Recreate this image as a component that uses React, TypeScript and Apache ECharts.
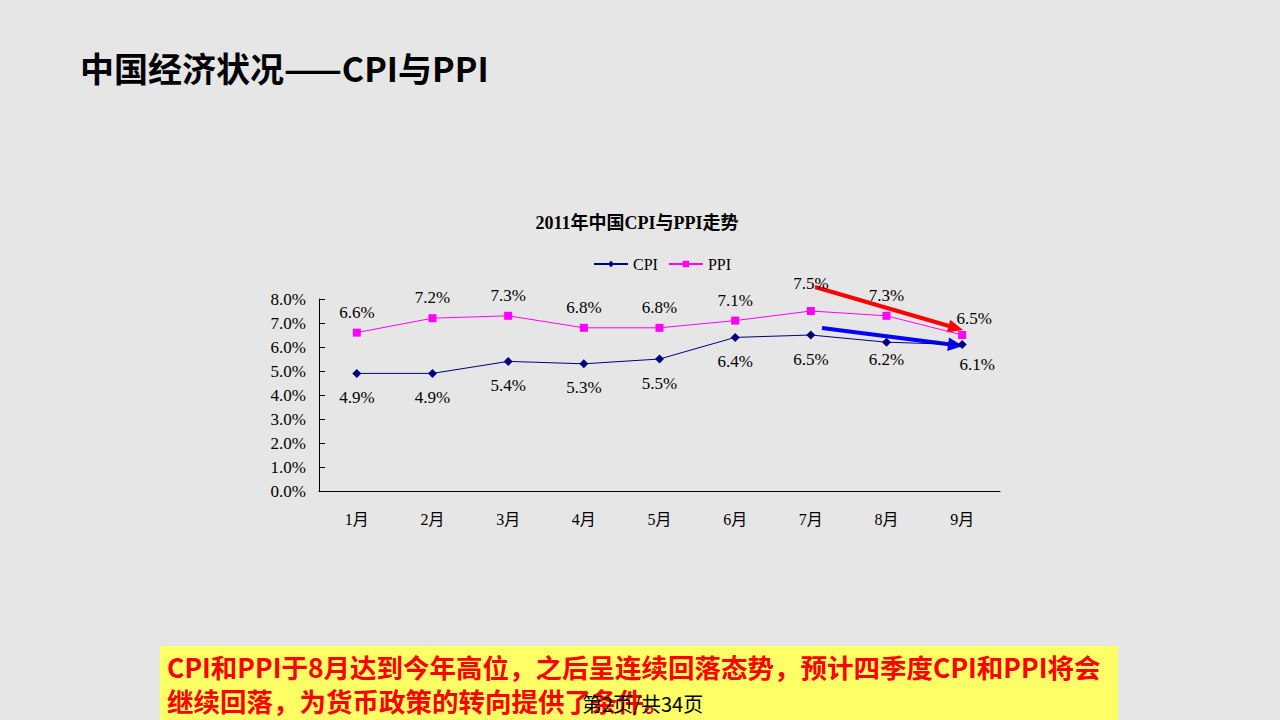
import React, { useEffect, useRef } from "react";
import * as echarts from "echarts";

const months = ["1月", "2月", "3月", "4月", "5月", "6月", "7月", "8月", "9月"];
const cpi = [4.9, 4.9, 5.4, 5.3, 5.5, 6.4, 6.5, 6.2, 6.1];
const ppi = [6.6, 7.2, 7.3, 6.8, 6.8, 7.1, 7.5, 7.3, 6.5];
const yTicks = { min: 0, max: 8, interval: 1 };

const SERIF = "'Liberation Serif', 'Noto Sans CJK SC', serif";
const SANS = "'Noto Sans CJK SC', 'Noto Sans', sans-serif";

export default function App() {
  const ref = useRef<HTMLDivElement>(null);
  useEffect(() => {
    if (!ref.current) return;
    const chart = echarts.init(ref.current, null, { renderer: "svg" });
    const pct = (v: number) => v.toFixed(1) + "%";
    chart.setOption({
      animation: false,
      backgroundColor: "#e6e6e6",
      title: {
        text: "2011年中国CPI与PPI走势",
        left: 632,
        textAlign: "center",
        top: 209,
        textStyle: { fontFamily: SERIF, fontSize: 18, fontWeight: "bold", color: "#000" },
      },
      legend: {
        top: 251,
        left: 588,
        itemWidth: 34,
        itemHeight: 8,
        itemGap: 10,
        textStyle: { fontFamily: SERIF, fontSize: 16, color: "#000" },
        data: ["CPI", "PPI"],
      },
      grid: { left: 319, right: 280, top: 299, bottom: 229 },
      xAxis: {
        type: "category",
        data: months,
        boundaryGap: true,
        axisLine: { lineStyle: { color: "#000", width: 1 } },
        axisTick: { inside: true, length: 6, lineStyle: { color: "#000" } },
        axisLabel: { fontFamily: SERIF, fontSize: 16, color: "#000", margin: 20 },
      },
      yAxis: {
        type: "value",
        min: yTicks.min,
        max: yTicks.max,
        interval: yTicks.interval,
        axisLine: { show: true, lineStyle: { color: "#000", width: 1 } },
        axisTick: { show: true, inside: true, length: 6, lineStyle: { color: "#000" } },
        splitLine: { show: false },
        axisLabel: {
          fontFamily: SERIF,
          fontSize: 17,
          color: "#000",
          margin: 13,
          formatter: (v: number) => pct(v),
        },
      },
      series: [
        {
          name: "CPI",
          type: "line",
          data: cpi.map((v, i) =>
            i === 8
              ? { value: v, label: { offset: [15, -4] } }
              : i === 7
              ? { value: v, label: { distance: 4 } }
              : v
          ),
          symbol: "diamond",
          symbolSize: 9,
          itemStyle: { color: "#000080" },
          lineStyle: { color: "#000080", width: 1 },
          label: {
            show: true,
            position: "bottom",
            distance: 11,
            fontFamily: SERIF,
            fontSize: 17,
            color: "#000",
            formatter: (p: any) => pct(p.value),
          },
        },
        {
          name: "PPI",
          type: "line",
          data: ppi.map((v, i) =>
            i === 8
              ? { value: v, label: { offset: [12, 4] } }
              : i === 6
              ? { value: v, label: { distance: 15 } }
              : v
          ),
          symbol: "rect",
          symbolSize: 8,
          itemStyle: { color: "#ff00ff" },
          lineStyle: { color: "#ff00ff", width: 1 },
          label: {
            show: true,
            position: "top",
            distance: 8,
            fontFamily: SERIF,
            fontSize: 17,
            color: "#000",
            formatter: (p: any) => pct(p.value),
          },
        },
      ],
      graphic: [
        {
          type: "text",
          left: 80,
          top: 50,
          style: {
            text: "中国经济状况——CPI与PPI",
            fontFamily: SANS,
            fontSize: 34,
            fontWeight: "bold",
            fill: "#000",
          },
        },
        {
          type: "line",
          shape: { x1: 815, y1: 287, x2: 949, y2: 326 },
          style: { stroke: "#ff0000", lineWidth: 4 },
        },
        {
          type: "polygon",
          shape: { points: [[963, 330], [946.8, 332.5], [950.2, 319.7]] },
          style: { fill: "#ff0000" },
        },
        {
          type: "line",
          shape: { x1: 822, y1: 328, x2: 949, y2: 344.3 },
          style: { stroke: "#0000ff", lineWidth: 4 },
        },
        {
          type: "polygon",
          shape: { points: [[963, 346], [947.2, 351], [949, 337.5]] },
          style: { fill: "#0000ff" },
        },
        {
          type: "rect",
          shape: { x: 160, y: 646, width: 958, height: 74 },
          style: { fill: "#ffff66" },
        },
        {
          type: "text",
          left: 167,
          top: 649,
          style: {
            text: "CPI和PPI于8月达到今年高位，之后呈连续回落态势，预计四季度CPI和PPI将会\n继续回落，为货币政策的转向提供了条件。",
            fontFamily: SANS,
            fontSize: 26.5,
            fontWeight: "bold",
            lineHeight: 34,
            fill: "#ff0000",
          },
        },
        {
          type: "text",
          left: 582,
          top: 693,
          style: {
            text: "第2页/共34页",
            fontFamily: SANS,
            fontSize: 20,
            fill: "#000",
          },
        },
      ],
    });
    return () => chart.dispose();
  }, []);
  return (
    <div
      ref={ref}
      style={{ position: "absolute", left: 0, top: 0, width: 1280, height: 720 }}
    />
  );
}
